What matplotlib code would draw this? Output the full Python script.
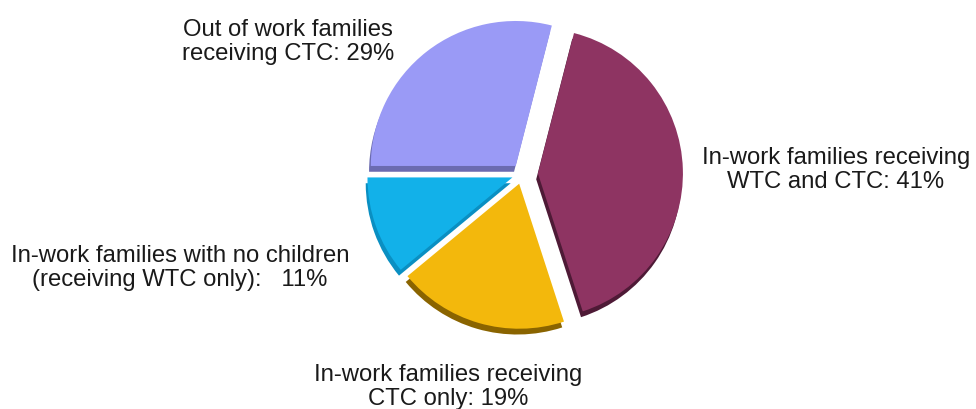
import numpy as np
import matplotlib.pyplot as plt

plt.rcParams['font.family'] = ['Liberation Sans', 'DejaVu Sans']

labels = ['Out of work families\nreceiving CTC: 29%',
          'In-work families receiving\nWTC and CTC: 41%',
          'In-work families receiving\nCTC only: 19%',
          'In-work families with no children\n(receiving WTC only):   11%']
shares = [29, 41, 19, 11]
colors = ['#9a9af6', '#8e3462', '#f3b80c', '#12b1e9']
rim_colors = ['#6b6bb0', '#4e1a36', '#8a6400', '#0a8fc2']
explode = [0.07, 0.11, 0.07, 0.07]

fig = plt.figure(figsize=(9.76, 4.10), dpi=100)
ax = fig.add_axes([0, 0, 1, 1])

# darker copy underneath gives the slices a little thickness
ax.pie(shares, colors=rim_colors, explode=explode, startangle=180,
       counterclock=False, radius=1.0, center=(-0.012, -0.04),
       wedgeprops=dict(linewidth=0))
ax.pie(shares, colors=colors, explode=explode, startangle=180,
       counterclock=False, radius=1.0, center=(0, 0),
       wedgeprops=dict(linewidth=0))

label_pos = [(-1.614, 0.917), (2.165, 0.034), (-0.51, -1.462), (-2.359, -0.641)]
for txt, (x, y) in zip(labels, label_pos):
    ax.text(x, y, txt, ha='center', va='center', fontsize=17.2,
            color='#1a1a1a', linespacing=1.08)

ax.set_xlim(-3.6, 3.131)
ax.set_ylim(-1.621, 1.207)
ax.set_aspect('equal')
ax.axis('off')

fig.savefig('out.png', dpi=100)
